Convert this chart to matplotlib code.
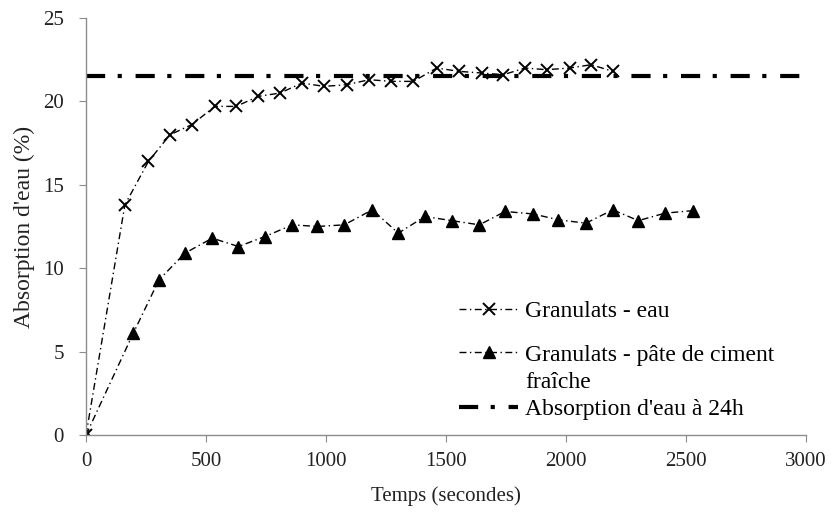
import numpy as np
import matplotlib.pyplot as plt
from matplotlib.lines import Line2D

plt.rcParams['font.family'] = ['Liberation Serif', 'DejaVu Serif']

# Granulats - eau (temps en s, absorption en %)
t_eau = [0, 162, 260, 350, 440, 537, 625, 718, 808, 900, 992, 1086,
         1180, 1272, 1364, 1461, 1555, 1649, 1739, 1829, 1919, 2015, 2105, 2195]
abs_eau = [0, 13.8, 16.4, 18.0, 18.6, 19.7, 19.7, 20.3, 20.5, 21.1, 20.9, 21.0,
           21.3, 21.2, 21.2, 22.0, 21.8, 21.7, 21.6, 22.0, 21.9, 22.0, 22.2, 21.8]

# Granulats - pate de ciment fraiche
t_pate = [0, 197, 304, 412, 526, 635, 746, 860, 964, 1076, 1193, 1301,
          1412, 1524, 1639, 1746, 1864, 1968, 2083, 2195, 2301, 2412, 2528]
abs_pate = [0, 6.1, 9.3, 10.9, 11.8, 11.3, 11.9, 12.6, 12.5, 12.6, 13.5, 12.1,
            13.1, 12.85, 12.6, 13.4, 13.25, 12.9, 12.7, 13.5, 12.85, 13.3, 13.45]

# Absorption d'eau a 24h
t_24h = [0, 3000]
abs_24h = [21.5, 21.5]

fig = plt.figure(figsize=(8.31, 5.14), dpi=100)
ax = fig.add_axes([0.1035, 0.1537, 0.8665, 0.8113])

l1, = ax.plot(t_eau, abs_eau, color='black', lw=1.0, dashes=(5, 2.5, 1, 2.5),
              marker='x', markersize=9, markeredgewidth=1.4)
l2, = ax.plot(t_pate, abs_pate, color='black', lw=1.0, dashes=(5, 2.5, 1, 2.5),
              marker='^', markersize=9)
l3, = ax.plot(t_24h, abs_24h, color='black', lw=3.0, dashes=(4.6, 3.0, 1.0, 3.3),
              dash_capstyle='butt')

ax.set_xlim(0, 3000)
ax.set_ylim(0, 25)
ax.set_xticks(np.arange(0, 3001, 500))
ax.set_yticks(np.arange(0, 26, 5))

for s in ['top', 'right']:
    ax.spines[s].set_visible(False)
for s in ['left', 'bottom']:
    ax.spines[s].set_color('#8c8c8c')
    ax.spines[s].set_linewidth(1.0)
ax.tick_params(colors='#8c8c8c', labelcolor='#222222', labelsize=15, length=5, direction='out')
ax.tick_params(axis='x', pad=7)
ax.tick_params(axis='y', pad=11)

ax.set_xlabel('Temps (secondes)', fontsize=15, color='#222222', labelpad=11)
ax.set_ylabel("Absorption d'eau (%)", fontsize=17, color='#222222', labelpad=6)

leg1 = ax.legend([l1], ['Granulats - eau'], loc='upper left', bbox_to_anchor=(0.518, 0.322),
                 frameon=False, fontsize=17, handlelength=2.5, handletextpad=0.3,
                 borderaxespad=0, borderpad=0)
ax.add_artist(leg1)
blank = Line2D([], [], color='none')
ax.legend([l2, blank, l3], ['Granulats - pâte de ciment', 'fraîche', "Absorption d'eau à 24h"],
          loc='upper left', bbox_to_anchor=(0.518, 0.218), frameon=False, fontsize=17,
          handlelength=2.5, handletextpad=0.3, labelspacing=0.24,
          borderaxespad=0, borderpad=0)

fig.savefig('out.png', dpi=100)
